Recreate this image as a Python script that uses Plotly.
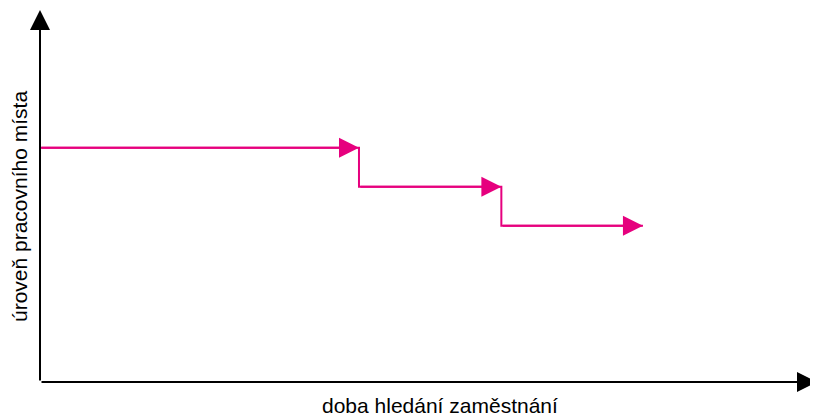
import plotly.graph_objects as go

# Data (abstract units: x = job search duration, y = job level)
step_ends = [41, 59.3, 77.5]          # x where each level ends (arrow tips)
levels = [63, 52.5, 42]               # level of each step
y_axis_max = 100
x_title = "doba hledání zaměstnání"
y_title = "úroveň pracovního místa"

PINK = "#E6007E"
FONT = "Liberation Sans, Arial, sans-serif"

# the page body has an 8px margin, so the figure is 810x406 and starts at (8, 8)
FIG_W, FIG_H = 810, 406
M_L, M_R, M_T, M_B = 32, 0, 2, 32
PLOT_W = FIG_W - M_L - M_R
X_ARROW_END = 1.007   # x-axis arrow runs slightly past the window edge (paper units)

# step path
px = [0] + step_ends
py = levels + [levels[-1]]

fig = go.Figure()
fig.add_trace(go.Scatter(x=px, y=py, mode="lines", line=dict(color=PINK, width=2, shape="hv"),
                         hoverinfo="skip", showlegend=False))

anns = []
# arrowheads on each step
starts = [0] + step_ends[:-1]
for s, e, lv in zip(starts, step_ends, levels):
    anns.append(dict(x=e, y=lv, ax=s, ay=lv, xref="x", yref="y", axref="x", ayref="y",
                     text="", showarrow=True, arrowhead=2, arrowsize=2, arrowwidth=2,
                     arrowcolor=PINK, standoff=0))
# axes arrows
anns.append(dict(x=X_ARROW_END, y=0, xref="paper", yref="y", ax=-X_ARROW_END * PLOT_W, ay=0,
                 text="", showarrow=True, arrowhead=2, arrowsize=2, arrowwidth=2,
                 arrowcolor="black", standoff=0))
anns.append(dict(x=0, y=y_axis_max, ax=0, ay=0, xref="x", yref="y", axref="x", ayref="y",
                 text="", showarrow=True, arrowhead=2, arrowsize=2, arrowwidth=2,
                 arrowcolor="black", standoff=0))
# titles
anns.append(dict(x=0.5135, y=-0.0995, xref="paper", yref="paper", xanchor="center", yanchor="bottom",
                 text=x_title, showarrow=False, font=dict(family=FONT, size=21, color="black")))
anns.append(dict(x=-0.027, y=0.473, xref="paper", yref="paper", xanchor="center", yanchor="middle",
                 text=y_title, textangle=-90, showarrow=False,
                 font=dict(family=FONT, size=21, color="black")))

fig.update_layout(
    width=FIG_W, height=FIG_H,
    margin=dict(l=M_L, r=M_R, t=M_T, b=M_B),
    paper_bgcolor="white", plot_bgcolor="white",
    xaxis=dict(range=[0, 100], visible=False, fixedrange=True),
    yaxis=dict(range=[0, 100], visible=False, fixedrange=True),
    annotations=anns,
    showlegend=False,
)
fig.write_html("out.html", config={"displayModeBar": False})
